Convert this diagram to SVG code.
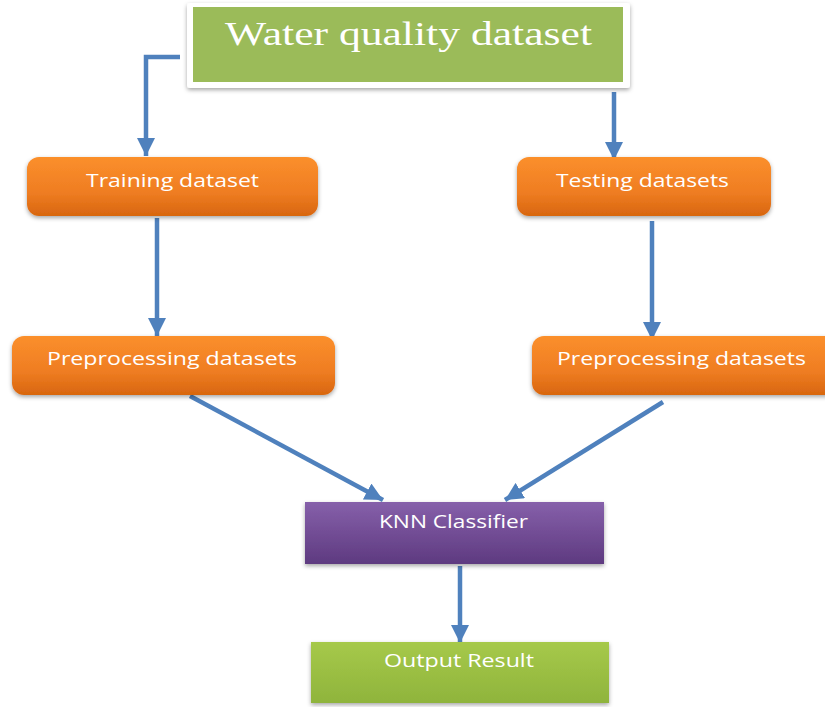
<svg xmlns="http://www.w3.org/2000/svg" width="825" height="707" viewBox="0 0 825 707">
<style>
.lbl{font-family:"Open Sans","Liberation Sans",sans-serif;font-size:18px;fill:#ffffff;}
.ttl{font-family:"Liberation Serif","Times New Roman",serif;font-size:33px;fill:#ffffff;}
.conn{stroke:#4f81bd;stroke-width:4.5;fill:none;marker-end:url(#ah);}
</style>
<defs>
<linearGradient id="gOr" x1="0" y1="0" x2="0" y2="1">
<stop offset="0" stop-color="#fb8f2c"/><stop offset="0.6" stop-color="#ef7d22"/><stop offset="1" stop-color="#d8660f"/>
</linearGradient>
<linearGradient id="gPu" x1="0" y1="0" x2="0" y2="1">
<stop offset="0" stop-color="#8660aa"/><stop offset="1" stop-color="#5e3a80"/>
</linearGradient>
<linearGradient id="gGr" x1="0" y1="0" x2="0" y2="1">
<stop offset="0" stop-color="#a6c94a"/><stop offset="1" stop-color="#8fb43c"/>
</linearGradient>
<filter id="sh" x="-10%" y="-20%" width="120%" height="150%">
<feDropShadow dx="0" dy="2" stdDeviation="2" flood-color="#000" flood-opacity="0.35"/>
</filter>
<marker id="ah" markerWidth="5" markerHeight="4" refX="4" refY="2" orient="auto" markerUnits="strokeWidth">
<path d="M0,0 L4,2 L0,4 Z" fill="#4f81bd"/>
</marker>
</defs>
<rect width="825" height="707" fill="#ffffff"/>
<g id="connectors">
<path class="conn" d="M180,57 H146 V156"/>
<path class="conn" d="M614,92 V160"/>
<path class="conn" d="M157,218 V336"/>
<path class="conn" d="M652,221 V340"/>
<path class="conn" d="M190,396 L383,500"/>
<path class="conn" d="M663,402 L505,500"/>
<path class="conn" d="M460,566 V643"/>
</g>
<g id="water">
<rect x="187" y="3" width="443" height="85" rx="3" fill="#ffffff" filter="url(#sh)"/>
<rect x="193" y="7" width="430" height="75" fill="#9bbb59"/>
<text class="ttl" x="225" y="45" textLength="367" lengthAdjust="spacingAndGlyphs">Water quality dataset</text>
</g>
<g id="training">
<rect x="27" y="157" width="291" height="59" rx="12" fill="url(#gOr)" filter="url(#sh)"/>
<text class="lbl" x="86" y="187" textLength="173" lengthAdjust="spacingAndGlyphs">Training dataset</text>
</g>
<g id="testing">
<rect x="517" y="157" width="254" height="59" rx="12" fill="url(#gOr)" filter="url(#sh)"/>
<text class="lbl" x="556" y="187" textLength="173" lengthAdjust="spacingAndGlyphs">Testing datasets</text>
</g>
<g id="prep-left">
<rect x="12" y="336" width="323" height="59" rx="12" fill="url(#gOr)" filter="url(#sh)"/>
<text class="lbl" x="47" y="365" textLength="250" lengthAdjust="spacingAndGlyphs">Preprocessing datasets</text>
</g>
<g id="prep-right">
<rect x="532" y="336" width="306" height="59" rx="12" fill="url(#gOr)" filter="url(#sh)"/>
<text class="lbl" x="557" y="365" textLength="249" lengthAdjust="spacingAndGlyphs">Preprocessing datasets</text>
</g>
<g id="knn">
<rect x="305" y="502" width="299" height="62" fill="url(#gPu)" filter="url(#sh)"/>
<text class="lbl" x="379" y="528" textLength="149" lengthAdjust="spacingAndGlyphs">KNN Classifier</text>
</g>
<g id="output">
<rect x="311" y="642" width="298" height="61" fill="url(#gGr)" filter="url(#sh)"/>
<text class="lbl" x="384" y="667" textLength="150" lengthAdjust="spacingAndGlyphs">Output Result</text>
</g>
</svg>
